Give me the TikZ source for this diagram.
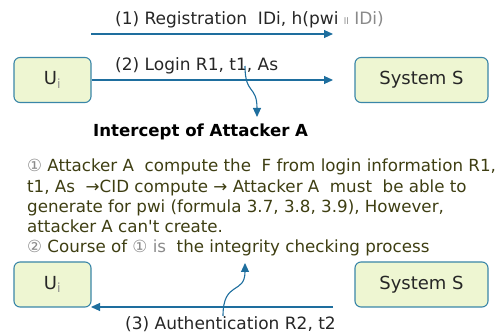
\documentclass[tikz,border=0pt]{standalone}
\usepackage{fontspec}
\setmainfont{DejaVu Sans}
\newfontfamily\plainfont{DejaVu Sans}[Ligatures=ResetAll]
\usetikzlibrary{arrows.meta}
\definecolor{boxfill}{HTML}{EEF6D2}
\definecolor{boxline}{HTML}{3A86A8}
\definecolor{arrowc}{HTML}{1E6E9E}
\definecolor{olive}{HTML}{3E3E12}
\definecolor{lgray}{HTML}{8A8A8A}
\definecolor{dtext}{HTML}{262626}
\begin{document}
\begin{tikzpicture}[x=1pt,y=-1pt,
  ent/.style={draw=boxline, fill=boxfill, line width=1.1pt, rounded corners=6pt, inner sep=0pt, minimum height=45pt, font=\fontsize{18}{20}\selectfont, text=dtext},
  msg/.style={draw=arrowc, line width=1.1pt, -{Triangle[length=9pt,width=8pt]}},
  lbl/.style={anchor=base west, inner sep=0pt, font=\fontsize{17}{20}\selectfont, text=dtext},
  para/.style={anchor=base west, inner sep=0pt, font=\fontsize{16.7}{19}\selectfont, text=olive}]
\useasboundingbox (0,0) rectangle (504,336);
% boxes
\node[ent, minimum width=77pt] (u1) at (52.5,80) {U\textsubscript{\color{lgray}i}};
\node[ent, minimum width=133pt] (s1) at (421.5,80) {System S};
\node[ent, minimum width=77pt] (u2) at (52.5,284.5) {U\textsubscript{\color{lgray}i}};
\node[ent, minimum width=133pt] (s2) at (421.5,284.5) {System S};
% coordinates
\coordinate (r0) at (91,34);
\coordinate (r1) at (333,34);
\coordinate (l1) at (333,80);
\coordinate (a0) at (333,307);
\coordinate (a1) at (91,307);
\coordinate (w0) at (245,66);
\coordinate (w1) at (257,117);
\coordinate (v0) at (223,316);
\coordinate (v1) at (245,263);
% arrows
\draw[msg] (r0) -- (r1);
\draw[msg] (u1.east) -- (l1);
\draw[msg] (a0) -- (a1);
% labels
\node[lbl] (t1) at (115,25) {(1) Registration\ \ IDi, h(pwi {\color{lgray}\fontsize{9}{10}\selectfont ll} {\color{lgray}IDi)}};
\node[lbl] (t2) at (115,71) {(2) Login R1, t1, As};
\node[lbl] (t3) at (125,330) {(3) Authentication R2, t2};
\draw[msg] (w0) .. controls (245,95) and (257,85) .. (w1);
\draw[msg] (v0) .. controls (223,280) and (245,295) .. (v1);
\node[anchor=base west, inner sep=0pt, font=\bfseries\fontsize{16.6}{19}\selectfont, text=black] (ic) at (93,137) {Intercept of Attacker A};
\node[para] (p1) at (27,172) {{\color{lgray}①} Attacker A\ \ compute the\ \ F from login information R1,};
\node[para] (p2) at (27,193) {t1, As\ \ →CID compute → Attacker A\ \ must\ \ be able to};
\node[para] (p3) at (27,213) {generate for pwi (formula 3.7, 3.8, 3.9), However,};
\node[para] (p4) at (27,233) {attacker A can{\plainfont '}t create.};
\node[para] (p5) at (27,253) {{\color{lgray}②} Course of {\color{lgray}① is}\ \ the integrity checking process};
\end{tikzpicture}
\end{document}
